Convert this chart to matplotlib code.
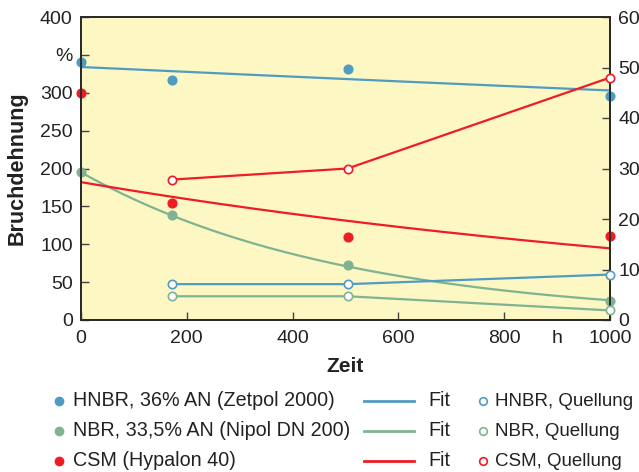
import numpy as np
import matplotlib
matplotlib.use("Agg")
import matplotlib.pyplot as plt

plt.rcParams['font.family'] = ['Liberation Sans', 'DejaVu Sans']

# Aging time in hours
time_h = [0, 172, 504, 1000]
swell_time_h = [172, 504, 1000]

# Elongation at break (%)
hnbr_elong = [340, 317, 331, 296]
nbr_elong = [195, 138, 72, 25.5]
csm_elong = [300, 155, 110, 111]

# Exponential fit curves: value at 0 h and at 1000 h
fit_names = ["HNBR", "NBR", "CSM"]
fit_at_0 = [334, 195, 182]
fit_at_1000 = [303, 26, 94.6]

# Swelling (%) on right axis
hnbr_swell = [7.1, 7.1, 9.0]
nbr_swell = [4.7, 4.7, 1.9]
csm_swell = [27.8, 30.0, 48.0]

legend_filled = ["HNBR, 36% AN (Zetpol 2000)",
                 "NBR, 33,5% AN (Nipol DN 200)",
                 "CSM (Hypalon 40)"]
legend_open = ["HNBR, Quellung", "NBR, Quellung", "CSM, Quellung"]

BLUE = "#4f9cc2"
GREEN = "#7fb391"
RED = "#ee1c25"
BG = "#fdf7c4"
SPINE = "#2b2b2b"
TEXT = "#222222"

W, H = 639, 472
fig = plt.figure(figsize=(W / 100, H / 100), dpi=100)
L, R, T, B = 81, 610, 17, 320
ax = fig.add_axes([L / W, 1 - B / H, (R - L) / W, (B - T) / H])
ax.set_facecolor(BG)
ax2 = ax.twinx()

colors = [BLUE, GREEN, RED]
elong = [hnbr_elong, nbr_elong, csm_elong]
swell = [hnbr_swell, nbr_swell, csm_swell]

t_fit = np.linspace(0, 1000, 200)
for c, a0, a1 in zip(colors, fit_at_0, fit_at_1000):
    k = np.log(a1 / a0) / 1000.0
    ax.plot(t_fit, a0 * np.exp(k * t_fit), color=c, lw=1.6, zorder=3)

for c, y in zip(colors, elong):
    ax.plot(time_h, y, ls="none", marker="o", ms=6.3, color=c,
            mec=c, zorder=5, clip_on=False)

for c, y in zip(colors, swell):
    ax2.plot(swell_time_h, y, color=c, lw=1.6, marker="o", ms=6.0,
             mfc="white", mec=c, mew=1.2, zorder=5, clip_on=False)

ax.set_xlim(0, 1000)
ax.set_ylim(0, 400)
ax2.set_ylim(0, 60)

yt = list(range(0, 401, 50))
ax.set_yticks(yt)
ax.set_yticklabels([("%" if v == 350 else str(v)) for v in yt])
ax.set_xticks([0, 200, 400, 600, 800, 1000])
ax.set_xticks([900], minor=True)
ax.set_xticklabels(["0", "200", "400", "600", "800", "1000"])
ax.set_xticklabels(["h"], minor=True)
ax2.set_yticks(range(0, 61, 10))

for a in (ax, ax2):
    for s in a.spines.values():
        s.set_color(SPINE)
        s.set_linewidth(1.4)
ax.tick_params(axis="y", which="major", direction="in", length=6,
               width=1.0, color="#444444", labelsize=14, labelcolor=TEXT,
               pad=6)
ax.tick_params(axis="x", which="major", direction="in", length=6,
               width=1.0, color="#444444", labelsize=14, labelcolor=TEXT,
               pad=7.5)
ax.tick_params(axis="x", which="minor", length=0, labelsize=14,
               labelcolor=TEXT, pad=7.5)
ax2.tick_params(axis="y", direction="in", length=6, width=1.0,
                color="#444444", labelsize=14, labelcolor=TEXT, pad=6)

ax.set_ylabel("Bruchdehnung", fontsize=15.5, fontweight="bold",
              color=TEXT, labelpad=9)
ax.set_xlabel("Zeit", fontsize=15, fontweight="bold", color=TEXT,
              labelpad=7)

# Legend block below the plot, laid out in pixel coordinates
lg = fig.add_axes([0, 0, 1, 1], facecolor="none")
lg.set_xlim(0, W)
lg.set_ylim(H, 0)
lg.axis("off")
rows = [401, 431, 461]
for c, y, t1, t3 in zip(colors, rows, legend_filled, legend_open):
    lg.plot([59], [y], marker="o", ms=6.0, color=c, ls="none")
    lg.text(73, y, t1, fontsize=14.2, va="center", ha="left", color=TEXT)
    lg.plot([364, 414], [y, y], color=c, lw=2.0)
    lg.text(428, y, "Fit", fontsize=14.2, va="center", ha="left", color=TEXT)
    lg.plot([483], [y], marker="o", ms=5.5, mfc="white", mec=c, mew=1.2,
            ls="none")
    lg.text(495, y, t3, fontsize=13.5, va="center", ha="left", color=TEXT)

fig.savefig("out.png", dpi=100, facecolor="white")
